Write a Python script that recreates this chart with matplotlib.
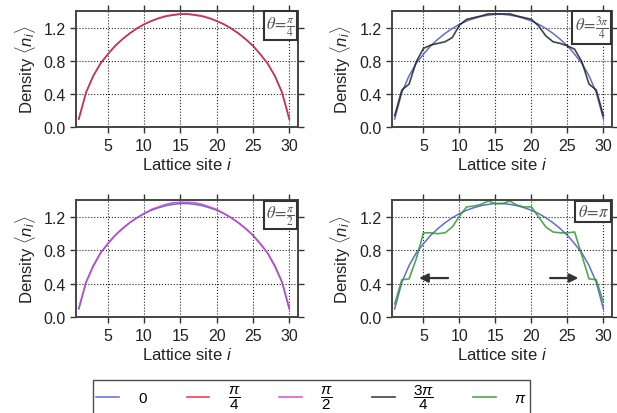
import numpy as np
import matplotlib
matplotlib.use("Agg")
import matplotlib.pyplot as plt

plt.rcParams["font.family"] = ["Liberation Sans", "DejaVu Sans"]
plt.rcParams["mathtext.fontset"] = "custom"
plt.rcParams["mathtext.rm"] = "Liberation Sans"
plt.rcParams["mathtext.it"] = "Liberation Sans:italic"

# ---- densities, lattice sites 1..30 ----
sites = list(range(1, 31))
n_0 = [0.10, 0.42, 0.62, 0.77, 0.88, 0.98, 1.06, 1.13, 1.19, 1.24, 1.28, 1.31, 1.335, 1.35, 1.36,
       1.36, 1.35, 1.335, 1.31, 1.28, 1.24, 1.19, 1.13, 1.06, 0.98, 0.88, 0.77, 0.62, 0.42, 0.10]
n_pi4 = [0.10, 0.42, 0.62, 0.77, 0.88, 0.98, 1.06, 1.13, 1.19, 1.24, 1.28, 1.315, 1.34, 1.355, 1.365,
         1.365, 1.355, 1.34, 1.315, 1.28, 1.24, 1.19, 1.13, 1.06, 0.98, 0.88, 0.77, 0.62, 0.42, 0.10]
n_pi2 = [0.11, 0.42, 0.61, 0.77, 0.88, 0.98, 1.06, 1.13, 1.19, 1.24, 1.29, 1.32, 1.35, 1.37, 1.375,
         1.375, 1.37, 1.35, 1.32, 1.29, 1.24, 1.19, 1.13, 1.06, 0.98, 0.88, 0.77, 0.61, 0.42, 0.11]
n_3pi4 = [0.14, 0.45, 0.52, 0.79, 0.95, 0.99, 1.01, 1.03, 1.08, 1.23, 1.30, 1.32, 1.34, 1.365, 1.365,
          1.365, 1.365, 1.34, 1.32, 1.30, 1.22, 1.10, 1.03, 1.01, 0.98, 0.94, 0.79, 0.52, 0.45, 0.14]
n_pi = [0.16, 0.45, 0.46, 0.70, 1.01, 1.01, 1.00, 1.01, 1.08, 1.21, 1.32, 1.33, 1.35, 1.39, 1.36,
        1.36, 1.39, 1.34, 1.32, 1.32, 1.20, 1.08, 1.02, 1.01, 1.01, 1.02, 0.74, 0.46, 0.45, 0.18]

labels = [r"$0$", r"$\dfrac{\pi}{4}$", r"$\dfrac{\pi}{2}$", r"$\dfrac{3\pi}{4}$", r"$\pi$"]
box_text = [r"$\theta\!=\!\frac{\pi}{4}$", r"$\theta\!=\!\frac{3\pi}{4}$",
            r"$\theta\!=\!\frac{\pi}{2}$", r"$\theta\!=\!\pi$"]
colors = ["#4455cc", "#ee2233", "#cc44cc", "#222222", "#339933"]
# arrows in the theta=pi panel: (x_start, x_end, y)
arrows = [(8.8, 4.0, 0.47), (22.2, 26.9, 0.47)]

fig = plt.figure(figsize=(6.17, 4.14), dpi=100)
rects = [(0.123, 0.690, 0.360, 0.281), (0.635, 0.690, 0.357, 0.281),
         (0.123, 0.231, 0.360, 0.283), (0.635, 0.231, 0.357, 0.283)]
series = [n_pi4, n_3pi4, n_pi2, n_pi]
cidx = [1, 3, 2, 4]

handles = []
for k, r in enumerate(rects):
    ax = fig.add_axes(r)
    h0, = ax.plot(sites, n_0, color=colors[0], lw=1.1, alpha=0.85)
    h, = ax.plot(sites, series[k], color=colors[cidx[k]], lw=1.2, alpha=0.85)
    if k == 0:
        handles.append(h0)
    handles.append(h)
    ax.set_xlim(0.6, 31.2)
    ax.set_ylim(0, 1.4)
    ax.set_xticks([5, 10, 15, 20, 25, 30])
    ax.set_yticks([0.0, 0.4, 0.8, 1.2])
    ax.set_yticklabels(["0.0", "0.4", "0.8", "1.2"])
    ax.grid(True, ls=":", color="#222222", lw=0.8)
    ax.tick_params(direction="out", top=True, right=True, length=4, width=1,
                   labelsize=11.5, colors="#333333", labelcolor="#222222")
    for s in ax.spines.values():
        s.set_color("#444444")
        s.set_linewidth(1.4)
    ax.set_xlabel(r"Lattice site $i$", fontsize=12, color="#222222", labelpad=2)
    ax.set_ylabel(r"Density $\langle n_i\rangle$", fontsize=12, color="#222222", labelpad=4)
    ax.text(0.985, 0.975, box_text[k], transform=ax.transAxes, ha="right", va="top",
            fontsize=12, color="#555555", math_fontfamily="stix",
            bbox=dict(boxstyle="square,pad=0.15", fc="white", ec="#333333", lw=1.5))
    if k == 3:
        for x0, x1, y in arrows:
            ax.annotate("", xy=(x1, y), xytext=(x0, y),
                        arrowprops=dict(arrowstyle="-|>", color="#333333", lw=1.6,
                                        mutation_scale=13))

order = [0, 1, 3, 2, 4]
leg = fig.legend([handles[i] for i in order], labels, loc="upper center",
                 bbox_to_anchor=(0.505, 0.099), ncol=5, frameon=True,
                 fancybox=False, handlelength=1.5, handletextpad=1.2, columnspacing=2.55,
                 borderpad=0.2, prop={"size": 11})
leg.get_frame().set_edgecolor("#222222")
leg.get_frame().set_linewidth(1.0)

fig.savefig("out.png", dpi=100)
